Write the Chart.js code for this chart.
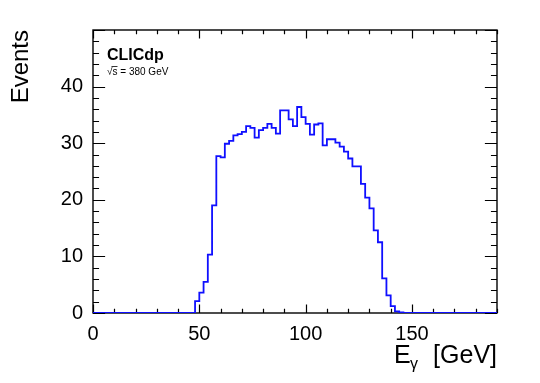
<!DOCTYPE html>
<html>
<head>
<meta charset="utf-8">
<script src="https://cdn.jsdelivr.net/npm/chart.js@4.4.1/dist/chart.umd.min.js"></script>
<style>
  html, body { margin: 0; padding: 0; background: #fff; }
  #wrap { width: 540px; height: 383px; }
</style>
</head>
<body>
<div id="wrap"><canvas id="histCanvas" width="540" height="383"></canvas></div>
<script>
// Photon energy histogram, 2 GeV bins from 0 to 190 GeV
const binWidth = 2;
const xMin = 0, xMax = 190;
const yMin = 0, yMax = 50;
const counts = [
    0, 0, 0, 0, 0, 0, 0, 0, 0, 0,
    0, 0, 0, 0, 0, 0, 0, 0, 0, 0,
    0, 0, 0, 0, 0,
    2.1, 3.6, 5.5, 10.3, 19.0,
    27.7, 27.5, 29.9, 30.4, 31.4, 31.6, 32.0, 33.0, 32.7, 31.0,
    32.3, 32.7, 33.4, 32.7, 31.7, 35.8, 35.8, 34.2, 33.0, 36.4,
    34.6, 33.4, 31.5, 33.3, 33.5, 29.6, 30.7, 30.7, 30.1, 29.4,
    28.5, 27.3, 25.9, 25.9, 22.8, 20.4, 18.5, 14.6, 12.5, 6.1,
    3.1, 1.2, 0.3, 0.1,
    0, 0, 0, 0, 0, 0, 0, 0, 0, 0,
    0, 0, 0, 0, 0, 0, 0, 0, 0, 0, 0
];
const xTickValues = [0, 50, 100, 150];
const yTickValues = [0, 10, 20, 30, 40];

// step points: lower edge of every bin, plus the closing edge
const points = counts.map((v, i) => ({ x: xMin + i * binWidth, y: v }));
points.push({ x: xMax, y: counts[counts.length - 1] });

const FONT = '"Liberation Sans", Arial, Helvetica, sans-serif';

// ROOT style frame with inward ticks on all four sides
const rootFrame = {
    id: 'rootFrame',
    beforeDatasetsDraw(chart) {
        const { ctx, chartArea: a, scales: { x, y } } = chart;
        ctx.save();
        ctx.strokeStyle = '#000';
        ctx.lineWidth = 1.4;
        ctx.strokeRect(a.left, a.top, a.right - a.left, a.bottom - a.top);
        ctx.lineWidth = 1.2;
        ctx.beginPath();
        const xMaj = 0.03 * (a.bottom - a.top);
        const yMaj = 0.03 * (a.right - a.left);
        for (let v = xMin; v <= xMax; v += 10) {
            const px = Math.round(x.getPixelForValue(v)) + 0.5;
            const len = (v % 50 === 0) ? xMaj : xMaj / 2;
            ctx.moveTo(px, a.bottom); ctx.lineTo(px, a.bottom - len);
            ctx.moveTo(px, a.top); ctx.lineTo(px, a.top + len);
        }
        for (let v = yMin; v <= yMax; v += 2) {
            const py = Math.round(y.getPixelForValue(v)) + 0.5;
            const len = (v % 10 === 0) ? yMaj : yMaj / 2;
            ctx.moveTo(a.left, py); ctx.lineTo(a.left + len, py);
            ctx.moveTo(a.right, py); ctx.lineTo(a.right - len, py);
        }
        ctx.stroke();
        ctx.restore();
    },
    afterDraw(chart) {
        const { ctx, chartArea: a } = chart;
        ctx.save();
        ctx.fillStyle = '#000';

        // y title, rotated, ends at the top of the frame
        ctx.save();
        ctx.translate(28, a.top);
        ctx.rotate(-Math.PI / 2);
        ctx.font = '24px ' + FONT;
        ctx.textAlign = 'right';
        ctx.textBaseline = 'alphabetic';
        ctx.fillText('Events', 0, 0);
        ctx.restore();

        // x title: E with gamma subscript, then [GeV]
        ctx.textBaseline = 'alphabetic';
        ctx.font = '25px ' + FONT;
        ctx.textAlign = 'right';
        ctx.fillText('[GeV]', a.right, 363);
        ctx.textAlign = 'left';
        ctx.fillText('E', 394, 363);
        ctx.font = '16px ' + FONT;
        ctx.fillText('γ', 410, 369);

        // experiment label
        ctx.font = 'bold 16px ' + FONT;
        ctx.fillText('CLICdp', 107, 60);
        ctx.font = '10px ' + FONT;
        ctx.fillText('√s = 380 GeV', 107, 75);
        const rootW = ctx.measureText('√').width;
        const sW = ctx.measureText('s').width;
        ctx.strokeStyle = '#000';
        ctx.lineWidth = 0.8;
        ctx.beginPath();
        ctx.moveTo(107 + rootW - 1, 66.5);
        ctx.lineTo(107 + rootW + sW, 66.5);
        ctx.stroke();
        ctx.restore();
    }
};

new Chart(document.getElementById('histCanvas').getContext('2d'), {
    type: 'line',
    data: {
        datasets: [{
            data: points,
            stepped: 'after',
            borderColor: 'rgb(15, 15, 255)',
            borderWidth: 1.8,
            pointRadius: 0,
            fill: false
        }]
    },
    options: {
        responsive: false,
        animation: false,
        devicePixelRatio: 1,
        layout: { padding: { top: 30, right: 43, left: 0, bottom: 0 } },
        plugins: { legend: { display: false }, tooltip: { enabled: false } },
        scales: {
            x: {
                type: 'linear',
                min: xMin,
                max: xMax,
                afterFit: s => { s.height = 70; },
                afterBuildTicks: s => { s.ticks = xTickValues.map(v => ({ value: v })); },
                grid: { display: false, drawTicks: false },
                border: { display: false },
                ticks: {
                    padding: 9,
                    maxRotation: 0,
                    autoSkip: false,
                    color: '#000',
                    font: { family: FONT, size: 20 }
                }
            },
            y: {
                type: 'linear',
                min: yMin,
                max: yMax,
                afterFit: s => { s.width = 93; },
                afterBuildTicks: s => { s.ticks = yTickValues.map(v => ({ value: v })); },
                grid: { display: false, drawTicks: false },
                border: { display: false },
                ticks: {
                    padding: 10,
                    autoSkip: false,
                    color: '#000',
                    font: { family: FONT, size: 20 }
                }
            }
        }
    },
    plugins: [rootFrame]
});
</script>
</body>
</html>
